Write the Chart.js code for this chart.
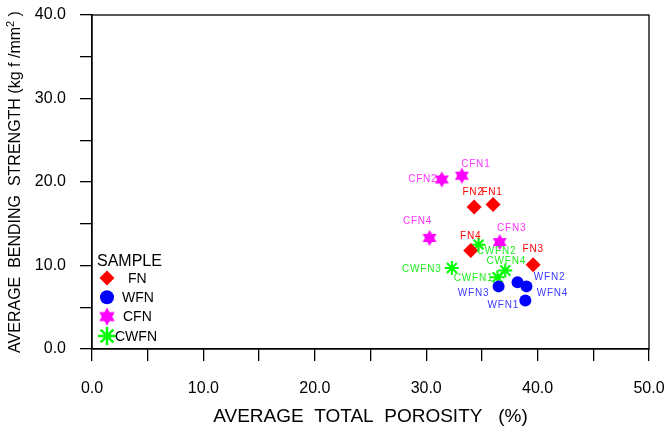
<!DOCTYPE html>
<html>
<head>
<meta charset="utf-8">
<script src="https://cdn.jsdelivr.net/npm/chart.js@4.4.0/dist/chart.umd.min.js"></script>
<style>
  html, body { margin: 0; padding: 0; background: #fff; }
  #wrap { width: 665px; height: 432px; }
</style>
</head>
<body>
<div id="wrap"><canvas id="chart" width="665" height="432"></canvas></div>
<script>
// data
const fnNames = ['FN1', 'FN2', 'FN3', 'FN4'];
const fnPorosity = [36.0, 34.3, 39.6, 34.0];
const fnStrength = [17.3, 17.0, 10.1, 11.8];

const wfnNames = ['WFN1', 'WFN2', 'WFN3', 'WFN4'];
const wfnPorosity = [38.9, 38.2, 36.5, 39.0];
const wfnStrength = [5.8, 8.0, 7.5, 7.5];

const cfnNames = ['CFN1', 'CFN2', 'CFN3', 'CFN4'];
const cfnPorosity = [33.2, 31.4, 36.6, 30.3];
const cfnStrength = [20.75, 20.3, 12.8, 13.3];

const cwfnNames = ['CWFN1', 'CWFN2', 'CWFN3', 'CWFN4'];
const cwfnPorosity = [36.4, 34.7, 32.3, 37.1];
const cwfnStrength = [8.6, 12.5, 9.7, 9.4];

const xTicks = [0, 10, 20, 30, 40, 50];
const yTicks = [0, 10, 20, 30, 40];

// label nudges (px, relative to the marker)
const labelShift = {
  FN:   [[-1, -12], [-1, -15], [0, -15], [0, -14]],
  WFN:  [[-22, 5], [32, -5], [-25, 7], [26, 7]],
  CFN:  [[14, -11], [-19, 0], [12, -14], [-12, -17]],
  CWFN: [[-24, 1], [18, 7], [-30, 1], [1, -9]]
};

function pts(xs, ys) {
  return xs.map((x, i) => ({ x: x, y: ys[i] }));
}

// filled six point star for CFN
function hexagram(r, color) {
  const c = document.createElement('canvas');
  c.width = c.height = r * 2 + 2;
  const g = c.getContext('2d');
  const cx = r + 1, cy = r + 1;
  g.fillStyle = color;
  [0, Math.PI].forEach(rot => {
    g.beginPath();
    for (let k = 0; k < 3; k++) {
      const a = rot - Math.PI / 2 + k * 2 * Math.PI / 3;
      const px = cx + r * Math.cos(a), py = cy + r * Math.sin(a);
      if (k === 0) g.moveTo(px, py); else g.lineTo(px, py);
    }
    g.closePath();
    g.fill();
  });
  return c;
}

const starSmall = hexagram(8, '#ff00ff');
const starLegend = hexagram(9, '#ff00ff');

const datasets = [
  { label: 'FN', names: fnNames, shift: labelShift.FN, textColor: '#ff0000',
    data: pts(fnPorosity, fnStrength), pointStyle: 'rectRot', pointRadius: 7.5,
    backgroundColor: '#ff0000', borderColor: '#ff0000', borderWidth: 0 },
  { label: 'WFN', names: wfnNames, shift: labelShift.WFN, textColor: '#3b3bff',
    data: pts(wfnPorosity, wfnStrength), pointStyle: 'circle', pointRadius: 6,
    backgroundColor: '#0000ff', borderColor: '#0000ff', borderWidth: 0 },
  { label: 'CFN', names: cfnNames, shift: labelShift.CFN, textColor: '#ff33ff',
    data: pts(cfnPorosity, cfnStrength), pointStyle: starSmall, pointRadius: 7,
    backgroundColor: '#ff00ff', borderColor: '#ff00ff', borderWidth: 0 },
  { label: 'CWFN', names: cwfnNames, shift: labelShift.CWFN, textColor: '#22ee22',
    data: pts(cwfnPorosity, cwfnStrength), pointStyle: 'star', pointRadius: 7,
    backgroundColor: '#00ff00', borderColor: '#00ff00', borderWidth: 2 }
];

const boxPlugin = {
  id: 'box',
  afterDraw(chart) {
    const a = chart.chartArea, ctx = chart.ctx;
    ctx.save();
    ctx.strokeStyle = '#000';
    ctx.lineWidth = 1.3;
    ctx.strokeRect(a.left, a.top, a.right - a.left, a.bottom - a.top);
    ctx.restore();
  }
};

const pointLabels = {
  id: 'pointLabels',
  afterDatasetsDraw(chart) {
    const ctx = chart.ctx;
    ctx.save();
    ctx.font = '10px "Liberation Sans", Arial, sans-serif';
    ctx.letterSpacing = '0.8px';
    ctx.textAlign = 'center';
    ctx.textBaseline = 'middle';
    chart.data.datasets.forEach((ds, di) => {
      const meta = chart.getDatasetMeta(di);
      ctx.fillStyle = ds.textColor;
      meta.data.forEach((el, i) => {
        const s = ds.shift[i];
        ctx.fillText(ds.names[i], el.x + s[0], el.y + s[1]);
      });
    });
    ctx.restore();
  }
};

// legend box drawn inside the plot, lower left
const sampleLegend = {
  id: 'sampleLegend',
  afterDraw(chart) {
    const ctx = chart.ctx;
    const x0 = chart.chartArea.left;
    const y0 = chart.chartArea.bottom;
    ctx.save();
    ctx.fillStyle = '#000';
    ctx.font = '16px "Liberation Sans", Arial, sans-serif';
    ctx.textBaseline = 'middle';
    ctx.textAlign = 'left';
    ctx.fillText('SAMPLE', x0 + 5, y0 - 87);
    const rows = [
      { style: 'rectRot', r: 7.5, fill: '#ff0000', stroke: '#ff0000', w: 0, text: 'FN', tx: 36 },
      { style: 'circle', r: 7, fill: '#0000ff', stroke: '#0000ff', w: 0, text: 'WFN', tx: 30 },
      { style: starLegend, r: 9, fill: '#ff00ff', stroke: '#ff00ff', w: 0, text: 'CFN', tx: 31 },
      { style: 'star', r: 9, fill: '#00ff00', stroke: '#00ff00', w: 2.5, text: 'CWFN', tx: 23 }
    ];
    ctx.font = '14px "Liberation Sans", Arial, sans-serif';
    rows.forEach((row, i) => {
      const py = y0 - 71 + i * 19.3;
      ctx.fillStyle = row.fill;
      ctx.strokeStyle = row.stroke;
      ctx.lineWidth = row.w;
      Chart.helpers.drawPoint(ctx, { pointStyle: row.style, radius: row.r, borderWidth: row.w }, x0 + 15, py);
      ctx.fillStyle = '#000';
      ctx.fillText(row.text, x0 + row.tx, py + 1);
    });
    ctx.restore();
  }
};

const yTitle = {
  id: 'yTitle',
  afterDraw(chart) {
    const ctx = chart.ctx;
    const a = chart.chartArea;
    ctx.save();
    ctx.translate(16, (a.top + a.bottom) / 2);
    ctx.rotate(-Math.PI / 2);
    ctx.fillStyle = '#000';
    ctx.textBaseline = 'middle';
    const big = '16px "Liberation Sans", Arial, sans-serif';
    const small = '11px "Liberation Sans", Arial, sans-serif';
    const parts = [
      ['AVERAGE  BENDING  STRENGTH (kg f /mm', big, 0],
      ['2', small, -5],
      [' )', big, 0]
    ];
    let total = 0;
    parts.forEach(p => { ctx.font = p[1]; total += ctx.measureText(p[0]).width; });
    let x = -total / 2;
    ctx.textAlign = 'left';
    parts.forEach(p => {
      ctx.font = p[1];
      ctx.fillText(p[0], x, p[2]);
      x += ctx.measureText(p[0]).width;
    });
    ctx.restore();
  }
};

// keep tick labels from pushing the plot box around
function noLabelPadding(scale) {
  scale.paddingLeft = 0;
  scale.paddingRight = 0;
  scale.paddingTop = 0;
  scale.paddingBottom = 0;
}

new Chart(document.getElementById('chart'), {
  type: 'scatter',
  data: { datasets: datasets },
  options: {
    responsive: false,
    animation: false,
    layout: { padding: { left: 0, top: 15, right: 16, bottom: 0 } },
    plugins: {
      legend: { display: false },
      tooltip: { enabled: false }
    },
    scales: {
      x: {
        min: 0, max: 50,
        afterFit(scale) { scale.height = 83; noLabelPadding(scale); },
        ticks: {
          stepSize: 5,
          padding: 18,
          color: '#000',
          maxRotation: 0,
          autoSkip: false,
          font: { family: '"Liberation Sans", Arial, sans-serif', size: 16 },
          callback: v => xTicks.includes(v) ? v.toFixed(1) : ''
        },
        grid: { drawOnChartArea: false, drawTicks: true, tickLength: 12, color: '#000', lineWidth: 1.3 },
        border: { color: '#000', width: 1.3 },
        title: {
          display: true,
          text: 'AVERAGE  TOTAL  POROSITY   (%)',
          color: '#000',
          font: { family: '"Liberation Sans", Arial, sans-serif', size: 19 },
          padding: { top: 4 }
        }
      },
      y: {
        min: 0, max: 40,
        afterFit(scale) { scale.width = 92; noLabelPadding(scale); },
        ticks: {
          stepSize: 5,
          padding: 14,
          color: '#000',
          autoSkip: false,
          font: { family: '"Liberation Sans", Arial, sans-serif', size: 16 },
          callback: v => yTicks.includes(v) ? v.toFixed(1) : ''
        },
        grid: { drawOnChartArea: false, drawTicks: true, tickLength: 12, color: '#000', lineWidth: 1.3 },
        border: { color: '#000', width: 1.3 }
      }
    }
  },
  plugins: [boxPlugin, pointLabels, sampleLegend, yTitle]
});
</script>
</body>
</html>
